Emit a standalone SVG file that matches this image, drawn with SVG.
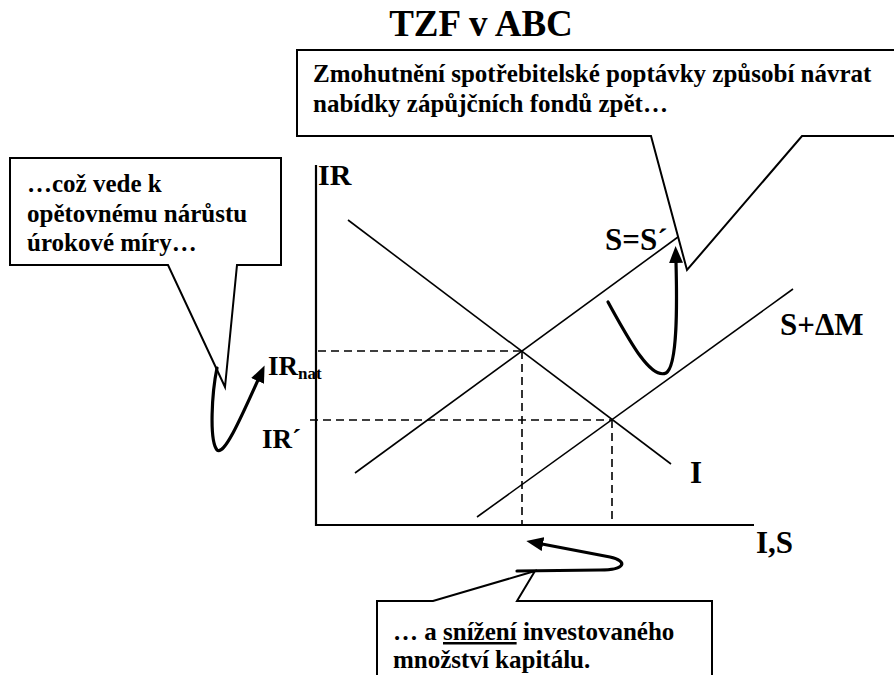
<svg xmlns="http://www.w3.org/2000/svg" width="894" height="675" viewBox="0 0 894 675">
<style>
text{font-family:"Liberation Serif","Times New Roman",serif;font-weight:bold;fill:#000}
.box{fill:#fff;stroke:#000;stroke-width:2;stroke-linejoin:miter}
.ln{stroke:#000;stroke-width:1.6;fill:none}
.ax{stroke:#000;stroke-width:2.2;fill:none}
.dash{stroke:#000;stroke-width:1.6;fill:none;stroke-dasharray:8 5}
.cur{stroke:#000;stroke-width:3.2;fill:none;stroke-linecap:round;marker-end:url(#ah)}
.t25{font-size:25px}
.lab{font-size:31px}
</style>
<defs>
<marker id="ah" markerUnits="userSpaceOnUse" markerWidth="17" markerHeight="14" refX="1" refY="7" orient="auto" viewBox="0 0 17 14">
<path d="M0,0 L17,7 L0,14 z" fill="#000"/>
</marker>
</defs>
<text id="title" x="481" y="36" font-size="37" text-anchor="middle">TZF v ABC</text>
<g id="axes">
<path class="ax" d="M316 165 V526"/>
<path class="ax" d="M315 525 H754"/>
<text class="lab" x="318" y="185" style="font-size:30px">IR</text>
<text class="lab" x="756" y="553">I,S</text>
</g>
<g id="curve-I">
<path class="ln" d="M348 220 L671 464"/>
<text class="lab" x="690" y="483">I</text>
</g>
<g id="curve-S">
<path class="ln" d="M355 473 L678 237"/>
<text class="lab" x="605" y="250">S=S´</text>
</g>
<g id="curve-SdM">
<path class="ln" d="M477 517 L793 289"/>
<text class="lab" x="780" y="335">S+ΔM</text>
</g>
<g id="guides">
<path class="dash" d="M318 351 H522 M310 420 H612 M522 351 V525 M612 420 V525"/>
<text x="268" y="375" font-size="27">IR<tspan font-size="17" dy="4">nat</tspan></text>
<text x="262" y="448" font-size="27">IR´</text>
</g>
<g id="callout-top">
<path class="box" d="M297 50 H900 V136 H802 L687 270 L651 136 H297 Z"/>
<text class="t25" x="313" y="82">Zmohutnění spotřebitelské poptávky způsobí návrat</text>
<text class="t25" x="313" y="112">nabídky zápůjčních fondů zpět…</text>
</g>
<g id="callout-left">
<path class="box" d="M10 158 H281 V265 H237 L225 387 L168 265 H10 Z"/>
<text class="t25" x="27" y="192">…což vede k</text>
<text class="t25" x="27" y="222">opětovnému nárůstu</text>
<text class="t25" x="27" y="251">úrokové míry…</text>
</g>
<g id="callout-bottom">
<path class="box" d="M377 601 H433 L535 571 L517 601 H712 V690 H377 Z"/>
<text class="t25" x="393" y="640">… a <tspan text-decoration="underline">snížení</tspan> investovaného</text>
<text class="t25" x="393" y="668">množství kapitálu.</text>
</g>
<g id="connectors">
<path class="cur" d="M217 368 C212 392, 209 440, 217 450 C224 456, 240 420, 258 380"/>
<path class="cur" d="M608 302 C628 338, 650 380, 666 373 C678 366, 677 300, 676 262"/>
<path class="cur" d="M517 571 L600 570 C626 570, 628 561, 610 557 L542 544"/>
</g>
</svg>
